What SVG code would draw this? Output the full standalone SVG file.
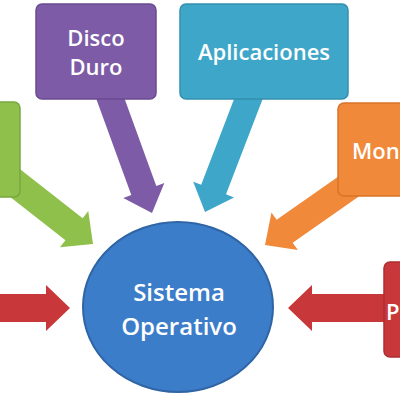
<svg xmlns="http://www.w3.org/2000/svg" width="400" height="400" viewBox="0 0 400 400">
<style>
.lbl{font-family:"Open Sans","Liberation Sans",sans-serif;font-size:22px;font-weight:600;fill:#fff;text-anchor:middle}
.big{font-size:24px}
</style>
<defs>
<polygon id="arr" points="0,0 -24,-23 -24,-14 -130,-14 -130,14 -24,14 -24,23"/>
</defs>
<rect width="400" height="400" fill="#fff"/>
<g id="connectors">
<use href="#arr" fill="#c8383a" transform="translate(70,308)"/>
<use href="#arr" fill="#c8383a" transform="translate(288,308) rotate(180)"/>
<use href="#arr" fill="#8fc04c" transform="translate(93,244) rotate(38)"/>
<use href="#arr" fill="#7d5ba6" transform="translate(152,213) rotate(70) scale(1,0.95)"/>
<use href="#arr" fill="#3ea6c8" transform="translate(205,212) rotate(111) scale(1,0.95)"/>
<use href="#arr" fill="#f0893a" transform="translate(265,245) rotate(145)"/>
</g>
<g id="disco">
<rect x="36" y="4" width="120" height="95" rx="6" fill="#7d5ba6" stroke="#6a4c90" stroke-width="1.5"/>
<text class="lbl" x="96" y="46">Disco</text>
<text class="lbl" x="96" y="75">Duro</text>
</g>
<g id="aplicaciones">
<rect x="180" y="4" width="168" height="95" rx="6" fill="#3ea6c8" stroke="#3590ad" stroke-width="1.5"/>
<text class="lbl" x="264" y="60">Aplicaciones</text>
</g>
<g id="green">
<rect x="-10" y="102" width="30" height="95" rx="6" fill="#8fc04c" stroke="#7aa63e" stroke-width="1.5"/>
</g>
<g id="monitor">
<rect x="338" y="103" width="80" height="93" rx="6" fill="#f0893a" stroke="#d87428" stroke-width="1.5"/>
<text class="lbl" x="352" y="159" style="text-anchor:start">Mon</text>
</g>
<g id="red">
<rect x="384" y="262" width="30" height="95" rx="6" fill="#c8383a" stroke="#ad2d2f" stroke-width="1.5"/>
<text class="lbl" x="386" y="320" style="text-anchor:start">P</text>
</g>
<g id="so">
<ellipse cx="178" cy="307" rx="95" ry="85" fill="#3c7dc9" stroke="#2f64a5" stroke-width="2"/>
<text class="lbl big" x="179" y="301">Sistema</text>
<text class="lbl big" x="179" y="335">Operativo</text>
</g>
</svg>
